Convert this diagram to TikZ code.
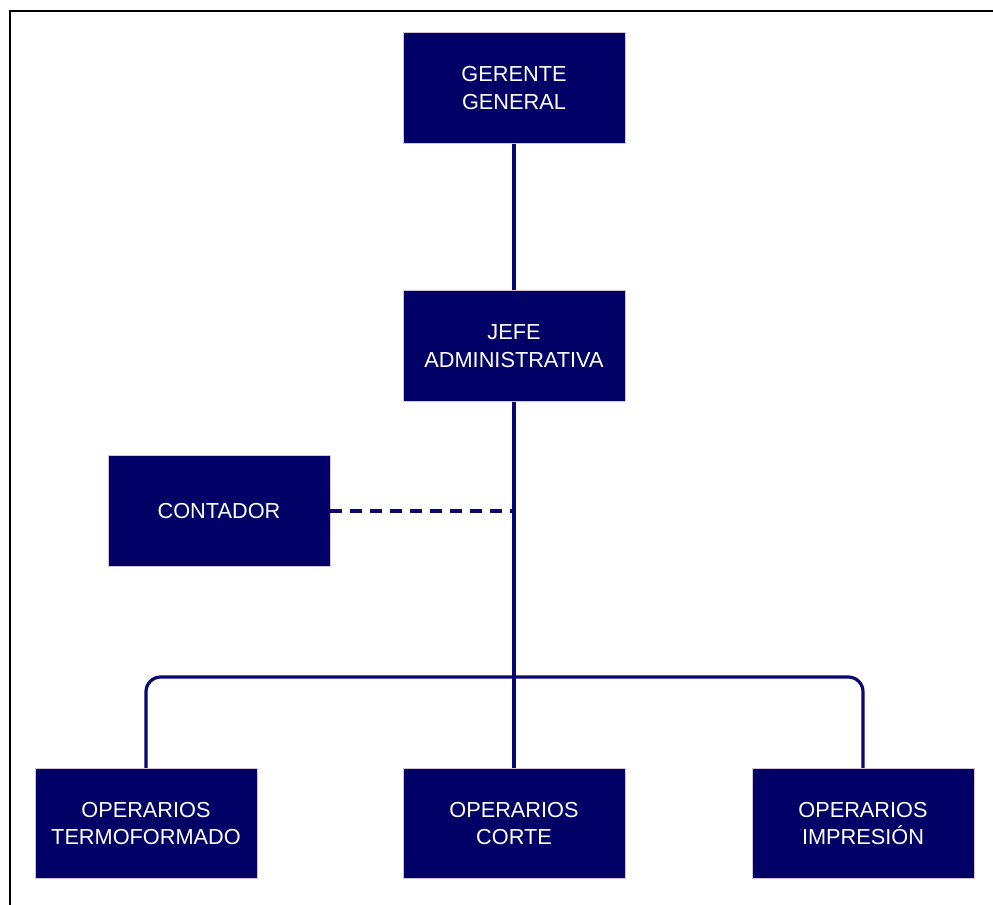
\documentclass[tikz,border=0pt]{standalone}
\usepackage{fontspec}
\setmainfont{Liberation Sans}
\usetikzlibrary{positioning}

\definecolor{navy}{RGB}{0,0,102}
\definecolor{linknavy}{RGB}{8,8,112}
\definecolor{edge}{RGB}{214,196,214}

\begin{document}
\begin{tikzpicture}[x=0.75pt,y=-0.75pt,node distance=110pt,
  org box/.style={rectangle,fill=navy,draw=edge,line width=0.6pt,text=white,
    minimum width=166.5pt,minimum height=83pt,align=center,inner sep=0pt,
    font=\fontsize{16.3}{20.3}\selectfont},
  link/.style={draw=linknavy,line width=2.4pt}]

  \useasboundingbox (0,0) rectangle (993,904);
  % frame of the screenshot
  \draw[line width=1.6pt] (10,910) -- (10,11) -- (1000,11);

  \node[org box] (gerente) at (514,88) {GERENTE\\GENERAL};
  \node[org box] (jefe) [below=of gerente] {JEFE\\ADMINISTRATIVA};
  \node[org box] (contador) at (219,511) {CONTADOR};
  \node[org box] (corte) at (514,823.5) {OPERARIOS\\CORTE};
  \node[org box] (termo) at (146,823.5) {OPERARIOS\\TERMOFORMADO};
  \node[org box] (impresion) at (863,823.5) {OPERARIOS\\IMPRESIÓN};

  \coordinate (bus) at (514,677);

  \path[link] (gerente) -- (jefe);
  \path[link] (jefe) -- (corte);
  \path[link,rounded corners=11pt] (termo.north) |- (bus) -| (impresion.north);
  \path[link,dash pattern=on 8.5pt off 6.5pt] (contador.east) -- (contador.east -| jefe.south);
\end{tikzpicture}
\end{document}
